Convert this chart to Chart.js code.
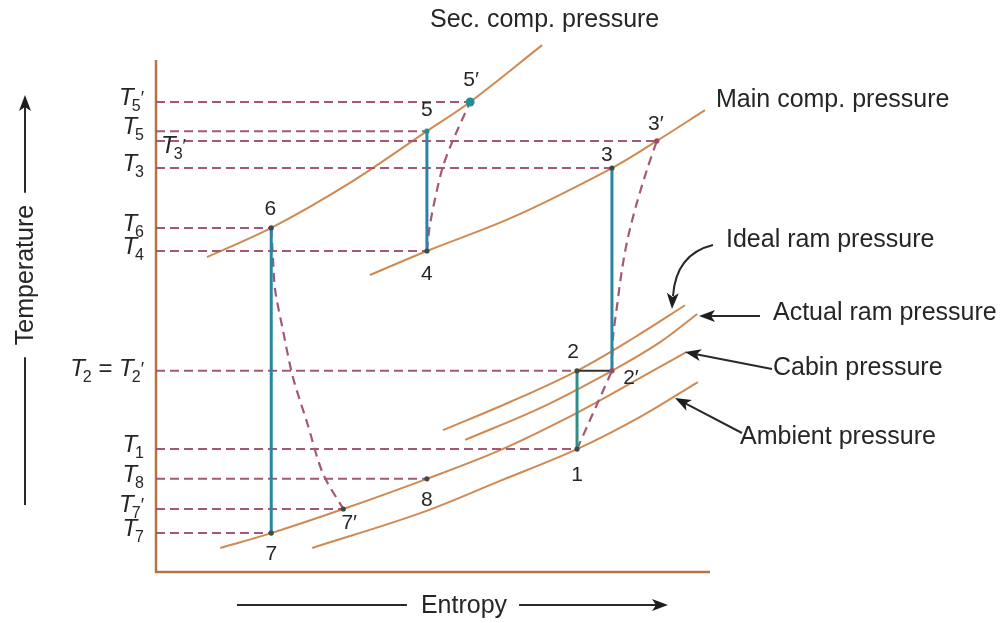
<!DOCTYPE html>
<html>
<head>
<meta charset="utf-8">
<script src="https://cdn.jsdelivr.net/npm/chart.js@4/dist/chart.umd.min.js"></script>
<style>
  html, body { margin: 0; padding: 0; background: #ffffff; }
  #wrap { width: 1002px; height: 623px; position: relative; }
  canvas { display: block; }
</style>
</head>
<body>
<div id="wrap"><canvas id="ts" width="1002" height="623"></canvas></div>
<script>
// T-s diagram of a boot-strap air refrigeration cycle (entropy s, temperature T, arbitrary units)

// State points of the cycle
const stateNames = ['1', '2', '2′', '3', '3′', '4', '5', '5′', '6', '7', '7′', '8'];
const stateS = [76.0, 76.0, 82.3, 82.3, 90.4, 48.9, 48.9, 56.7, 20.8, 20.8, 33.8, 48.9];
const stateT = [24.0, 39.3, 39.3, 78.9, 84.2, 62.7, 86.1, 91.8, 67.2, 7.6, 12.3, 18.2];

// Temperature levels marked on the T axis (label, state it belongs to)
const levelLabels = [['T', '5', true], ['T', '5', false], ['T', '3', true], ['T', '3', false],
                     ['T', '6', false], ['T', '4', false], ['T', '2', 'eq'], ['T', '1', false],
                     ['T', '8', false], ['T', '7', true], ['T', '7', false]];
const levelStates = ['5′', '5', '3′', '3', '6', '4', '2', '1', '8', '7′', '7'];

// Constant pressure lines
const secCompS   = [9.2, 20.8, 35.0, 48.9, 56.7, 69.7];
const secCompT   = [61.5, 67.2, 76.0, 86.1, 91.8, 102.9];
const mainCompS  = [38.6, 48.9, 64.4, 82.3, 90.4, 99.1];
const mainCompT  = [58.0, 62.7, 69.3, 78.9, 84.2, 90.2];
const idealRamS  = [51.8, 63.9, 76.0, 86.5, 95.5];
const idealRamT  = [27.7, 33.2, 39.3, 45.9, 52.1];
const actualRamS = [55.8, 69.3, 82.3, 91.0, 97.7];
const actualRamT = [25.8, 32.0, 39.3, 44.9, 50.4];
const cabinS     = [11.6, 20.8, 33.8, 48.9, 62.1, 76.0, 87.4, 95.8];
const cabinT     = [4.7, 7.6, 12.3, 18.2, 23.8, 31.1, 37.9, 43.0];
const ambientS   = [28.2, 47.7, 62.1, 76.0, 87.4, 97.8];
const ambientT   = [4.7, 11.5, 17.8, 24.0, 30.3, 37.1];

// Actual (irreversible) processes
const ramS   = [76.0, 82.3];
const ramT   = [24.0, 39.3];
const mainS  = [82.3, 82.5, 83.2, 84.1, 85.2, 86.8, 88.6, 90.4];
const mainT  = [39.3, 45.9, 51.8, 59.0, 65.4, 72.1, 78.5, 84.2];
const secS   = [48.9, 49.5, 51.6, 53.4, 56.7];
const secT   = [62.7, 68.2, 78.5, 83.8, 91.8];
const turbS  = [20.8, 21.1, 21.5, 22.9, 24.7, 27.3, 30.1, 33.8];
const turbT  = [67.2, 61.5, 55.1, 47.3, 38.1, 29.1, 19.3, 12.3];

// Ideal (isentropic) processes as pairs of state names
const isentropic = [['1', '2'], ['2′', '3'], ['4', '5'], ['6', '7']];

const FONT = '"Liberation Sans", Arial, Helvetica, sans-serif';
const TEXT = '#262626';
const PRESS = '#cf8a52';
const DASH = '#a3587a';
const TEAL = '#2a84a6';

const pts = (xs, ys) => xs.map((x, i) => ({ x, y: ys[i] }));
const st = name => { const i = stateNames.indexOf(name); return { x: stateS[i], y: stateT[i] }; };

const datasets = [];

// state markers (drawn on top)
datasets.push({
  data: pts(stateS, stateT),
  showLine: false,
  pointRadius: stateNames.map(n => n === '5′' ? 4.5 : 2.6),
  pointBackgroundColor: stateNames.map(n => n === '5′' || n === '5' ? '#1f8f95' : (n === '3′' || n === '2′' ? '#9a4a6a' : '#3d4a48')),
  pointBorderWidth: 0,
  clip: false
});

// 2 -> 2' at constant temperature
datasets.push({
  data: [st('2'), st('2′')], showLine: true, borderColor: '#333333', borderWidth: 2,
  pointRadius: 0, clip: false
});

// isentropic lines
isentropic.forEach(([a, b]) => datasets.push({
  data: [st(a), st(b)], showLine: true,
  borderColor: a === '1' ? '#2f8f86' : TEAL, borderWidth: 3,
  pointRadius: 0, clip: false
}));

// actual processes (dashed)
[[ramS, ramT], [mainS, mainT], [secS, secT], [turbS, turbT]].forEach(([xs, ys]) => datasets.push({
  data: pts(xs, ys), showLine: true, borderColor: DASH, borderWidth: 2.2,
  borderDash: [9, 6], tension: 0.3, pointRadius: 0, clip: false
}));

// temperature level guides from the T axis to each state
levelStates.forEach(n => {
  const p = st(n);
  datasets.push({
    data: [{ x: 0, y: p.y }, p], showLine: true, borderColor: DASH, borderWidth: 2,
    borderDash: [9, 5], pointRadius: 0, clip: false
  });
});

// constant pressure lines
[[secCompS, secCompT], [mainCompS, mainCompT], [idealRamS, idealRamT],
 [actualRamS, actualRamT], [cabinS, cabinT], [ambientS, ambientT]].forEach(([xs, ys]) => datasets.push({
  data: pts(xs, ys), showLine: true, borderColor: PRESS, borderWidth: 2,
  tension: 0.35, pointRadius: 0, clip: false
}));

// label placement for state numbers (pixel offsets from the point)
const stateLabelOffset = {
  '1': [0, 26], '2': [-4, -19], '2′': [19, 7], '3': [-5, -13], '3′': [-1, -17],
  '4': [0, 23], '5': [0, -21], '5′': [1, -22], '6': [-1, -19], '7': [0, 21],
  '7′': [6, 14], '8': [0, 21]
};

function richText(ctx, parts, x, y, align) {
  let w = 0;
  parts.forEach(p => { ctx.font = p.font; w += ctx.measureText(p.text).width + (p.kern || 0); });
  let cx = align === 'right' ? x - w : x;
  ctx.textAlign = 'left';
  ctx.textBaseline = 'alphabetic';
  parts.forEach(p => {
    ctx.font = p.font;
    ctx.fillText(p.text, cx, y + (p.dy || 0));
    cx += ctx.measureText(p.text).width + (p.kern || 0);
  });
}

function tParts(sub, prime) {
  const parts = [
    { text: 'T', font: 'italic 24px ' + FONT, kern: -2 },
    { text: sub, font: '16px ' + FONT, dy: 6 }
  ];
  if (prime) parts.push({ text: '′', font: '18px ' + FONT, dy: -1 });
  return parts;
}

function arrowHead(ctx, x, y, ang, len, half) {
  ctx.beginPath();
  ctx.moveTo(x, y);
  ctx.lineTo(x - len * Math.cos(ang) + half * Math.sin(ang), y - len * Math.sin(ang) - half * Math.cos(ang));
  ctx.lineTo(x - len * Math.cos(ang) * 0.75, y - len * Math.sin(ang) * 0.75);
  ctx.lineTo(x - len * Math.cos(ang) - half * Math.sin(ang), y - len * Math.sin(ang) + half * Math.cos(ang));
  ctx.closePath();
  ctx.fill();
}

function straightArrow(ctx, x0, y0, x1, y1) {
  const ang = Math.atan2(y1 - y0, x1 - x0);
  ctx.beginPath();
  ctx.moveTo(x0, y0);
  ctx.lineTo(x1 - 10 * Math.cos(ang), y1 - 10 * Math.sin(ang));
  ctx.stroke();
  arrowHead(ctx, x1, y1, ang, 16, 6);
}

const overlay = {
  id: 'overlay',
  beforeDatasetsDraw(chart) {
    const { ctx, chartArea: a } = chart;
    ctx.save();
    ctx.strokeStyle = '#b4744a';
    ctx.lineWidth = 2.5;
    ctx.beginPath();
    ctx.moveTo(a.left, a.top);
    ctx.lineTo(a.left, a.bottom);
    ctx.lineTo(a.right, a.bottom);
    ctx.stroke();
    ctx.restore();
  },
  afterDatasetsDraw(chart) {
    const { ctx, chartArea: a } = chart;
    const xs = chart.scales.x, ys = chart.scales.y;
    ctx.save();
    ctx.fillStyle = TEXT;
    ctx.strokeStyle = '#2a2a2a';

    // T axis level labels
    levelStates.forEach((n, i) => {
      const py = ys.getPixelForValue(st(n).y);
      const [, sub, kind] = levelLabels[i];
      if (n === '3′') {
        richText(ctx, tParts(sub, true), a.left + 5, py + 12, 'left');
      } else if (kind === 'eq') {
        const parts = [
          { text: 'T', font: 'italic 24px ' + FONT, kern: -2 },
          { text: sub, font: '16px ' + FONT, dy: 6 },
          { text: ' = ', font: '24px ' + FONT },
          ...tParts(sub, true)
        ];
        richText(ctx, parts, a.left - 12, py + 5, 'right');
      } else {
        richText(ctx, tParts(sub, kind === true), a.left - 12, py + 3, 'right');
      }
    });

    // state numbers
    ctx.font = '21px ' + FONT;
    ctx.textAlign = 'center';
    ctx.textBaseline = 'middle';
    stateNames.forEach((n, i) => {
      const off = stateLabelOffset[n];
      ctx.fillText(n, xs.getPixelForValue(stateS[i]) + off[0], ys.getPixelForValue(stateT[i]) + off[1]);
    });

    // pressure line names
    ctx.font = '25px ' + FONT;
    ctx.textAlign = 'left';
    ctx.fillText('Sec. comp. pressure', 430, 20);
    ctx.fillText('Main comp. pressure', 716, 100);
    ctx.fillText('Ideal ram pressure', 726, 240);
    ctx.fillText('Actual ram pressure', 773, 313);
    ctx.fillText('Cabin pressure', 773, 368);
    ctx.fillText('Ambient pressure', 740, 437);

    // call-out arrows
    ctx.lineWidth = 2;
    ctx.fillStyle = '#1e1e1e';
    ctx.beginPath();
    ctx.moveTo(713, 245);
    ctx.quadraticCurveTo(676, 254, 673, 296);
    ctx.stroke();
    arrowHead(ctx, 672, 309, Math.PI / 2 + 0.05, 16, 6);
    straightArrow(ctx, 760, 316, 699, 316);
    straightArrow(ctx, 772, 369, 685, 352);
    straightArrow(ctx, 742, 433, 675, 398);

    // axis titles with arrows
    ctx.fillStyle = TEXT;
    ctx.font = '25px ' + FONT;
    ctx.textAlign = 'center';
    ctx.textBaseline = 'middle';
    const ew = ctx.measureText('Entropy').width;
    const ex = 464, ey = 605;
    ctx.fillText('Entropy', ex, ey + 1);
    ctx.lineWidth = 2;
    ctx.beginPath();
    ctx.moveTo(237, ey);
    ctx.lineTo(ex - ew / 2 - 14, ey);
    ctx.stroke();
    ctx.fillStyle = '#1e1e1e';
    straightArrow(ctx, ex + ew / 2 + 12, ey, 668, ey);

    const tw = ctx.measureText('Temperature').width;
    const tx = 25, ty = 275;
    ctx.save();
    ctx.translate(tx, ty);
    ctx.rotate(-Math.PI / 2);
    ctx.fillStyle = TEXT;
    ctx.fillText('Temperature', 0, 1);
    ctx.restore();
    ctx.beginPath();
    ctx.moveTo(tx, ty + tw / 2 + 12);
    ctx.lineTo(tx, 505);
    ctx.stroke();
    straightArrow(ctx, tx, ty - tw / 2 - 12, tx, 95);
    ctx.restore();
  }
};

new Chart(document.getElementById('ts'), {
  type: 'scatter',
  data: { datasets },
  options: {
    responsive: false,
    animation: false,
    events: [],
    layout: { padding: { left: 156, right: 292, top: 60, bottom: 51 } },
    plugins: { legend: { display: false }, tooltip: { enabled: false } },
    scales: {
      x: { type: 'linear', min: 0, max: 100, display: false },
      y: { type: 'linear', min: 0, max: 100, display: false }
    }
  },
  plugins: [overlay]
});
</script>
</body>
</html>
